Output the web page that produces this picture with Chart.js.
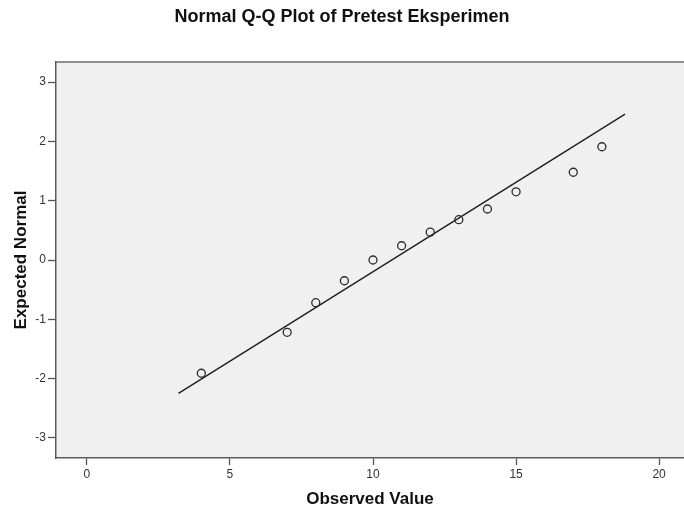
<!DOCTYPE html>
<html>
<head>
<meta charset="utf-8">
<title>Normal Q-Q Plot of Pretest Eksperimen</title>
<script src="https://cdn.jsdelivr.net/npm/chart.js@4/dist/chart.umd.min.js"></script>
<style>
    html, body { margin: 0; padding: 0; background: #fff; }
    #wrap { width: 684px; height: 513px; position: relative; }
</style>
</head>
<body>
<div id="wrap"><canvas id="qq-chart"></canvas></div>
<script>
// observed scores and their expected normal values
const observedValues = [4, 7, 8, 9, 10, 11, 12, 13, 14, 15, 17, 18];
const expectedNormal = [-1.91, -1.22, -0.72, -0.35, 0.00, 0.24, 0.47, 0.68, 0.86, 1.15, 1.48, 1.91];

// reference line endpoints
const lineX = [3.2, 18.81];
const lineY = [-2.25, 2.46];

const xTicks = [0, 5, 10, 15, 20];
const yTicks = [-3, -2, -1, 0, 1, 2, 3];

const chartTitle = 'Normal Q-Q Plot of Pretest Eksperimen';
const xTitle = 'Observed Value';
const yTitle = 'Expected Normal';

const FONT = "Arial, 'Liberation Sans', Helvetica, sans-serif";

// grey plot background and top frame line
const plotFrame = {
    id: 'plotFrame',
    beforeDraw(chart) {
        const { ctx, chartArea } = chart;
        ctx.save();
        ctx.fillStyle = '#f0f0f0';
        ctx.fillRect(chartArea.left, chartArea.top, chartArea.right - chartArea.left, chartArea.bottom - chartArea.top);
        ctx.restore();
    },
    afterDraw(chart) {
        const { ctx, chartArea } = chart;
        ctx.save();
        ctx.strokeStyle = '#6e6e6e';
        ctx.lineWidth = 1.5;
        ctx.beginPath();
        ctx.moveTo(chartArea.left, chartArea.top);
        ctx.lineTo(chartArea.right, chartArea.top);
        ctx.stroke();
        ctx.restore();
    }
};

const points = observedValues.map((x, i) => ({ x: x, y: expectedNormal[i] }));
const linePoints = lineX.map((x, i) => ({ x: x, y: lineY[i] }));

const ctx = document.getElementById('qq-chart').getContext('2d');

new Chart(ctx, {
    type: 'scatter',
    data: {
        datasets: [{
            label: 'Observed',
            data: points,
            pointRadius: 4,
            pointHoverRadius: 4,
            pointBorderWidth: 1.3,
            pointBorderColor: '#2a2a2a',
            pointBackgroundColor: 'rgba(0,0,0,0)'
        }, {
            label: 'Reference',
            type: 'line',
            data: linePoints,
            showLine: true,
            fill: false,
            pointRadius: 0,
            borderColor: '#1e1e1e',
            borderWidth: 1.4
        }]
    },
    plugins: [plotFrame],
    options: {
        responsive: true,
        maintainAspectRatio: false,
        animation: false,
        layout: { padding: 0, autoPadding: false },
        plugins: {
            legend: { display: false },
            tooltip: { enabled: false },
            title: {
                display: true,
                text: chartTitle,
                color: '#111',
                font: { family: FONT, size: 18, weight: 'bold', lineHeight: 1.2 },
                padding: { top: 6, bottom: 34.4 }
            }
        },
        scales: {
            x: {
                type: 'linear',
                min: -1.08,
                max: 20.87,
                afterFit(scale) {
                    scale.height = 55;
                    scale.paddingLeft = 0;
                    scale.paddingRight = 0;
                },
                afterBuildTicks(scale) { scale.ticks = xTicks.map(v => ({ value: v })); },
                ticks: {
                    includeBounds: false,
                    color: '#333',
                    padding: 2,
                    font: { family: FONT, size: 12 }
                },
                grid: {
                    drawOnChartArea: false,
                    drawTicks: true,
                    tickLength: 7,
                    tickWidth: 1.3,
                    tickColor: '#555'
                },
                border: { display: true, color: '#5a5a5a', width: 1.5 },
                title: {
                    display: true,
                    text: xTitle,
                    color: '#111',
                    font: { family: FONT, size: 17, weight: 'bold', lineHeight: 1.2 },
                    padding: { top: 0, bottom: 3 }
                }
            },
            y: {
                type: 'linear',
                min: -3.34,
                max: 3.34,
                afterFit(scale) {
                    scale.width = 56;
                    scale.paddingTop = 0;
                    scale.paddingBottom = 0;
                },
                afterBuildTicks(scale) { scale.ticks = yTicks.map(v => ({ value: v })); },
                ticks: {
                    includeBounds: false,
                    color: '#333',
                    padding: 2,
                    font: { family: FONT, size: 12 }
                },
                grid: {
                    drawOnChartArea: false,
                    drawTicks: true,
                    tickLength: 8,
                    tickWidth: 1.3,
                    tickColor: '#555'
                },
                border: { display: true, color: '#5a5a5a', width: 1.5 },
                title: {
                    display: true,
                    text: yTitle,
                    color: '#111',
                    font: { family: FONT, size: 17, weight: 'bold', lineHeight: 1.2 },
                    padding: { top: 11, bottom: 0 }
                }
            }
        }
    }
});
</script>
</body>
</html>
